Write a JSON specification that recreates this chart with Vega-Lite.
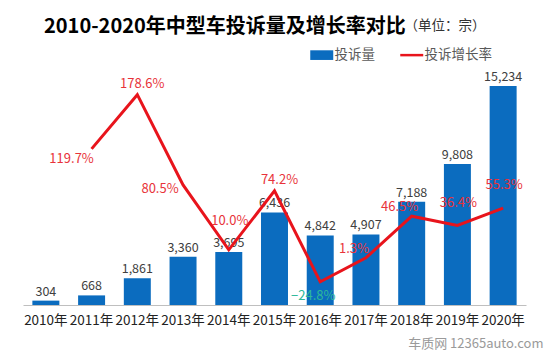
{
  "$schema": "https://vega.github.io/schema/vega-lite/v6.json",
  "width": 503,
  "height": 230,
  "autosize": {"type": "none"},
  "padding": {"left": 23, "top": 75, "right": 24, "bottom": 51},
  "background": "white",
  "config": {"font": "Noto Sans CJK SC", "view": {"stroke": null}},
  "title": {
    "text": "2010-2020年中型车投诉量及增长率对比",
    "fontSize": 20,
    "fontWeight": "bold",
    "color": "#000000",
    "anchor": "start",
    "frame": "group",
    "dx": 21,
    "offset": -19
  },
  "data": {
    "values": [
      {"year": "2010年", "count": 304, "rate": null},
      {"year": "2011年", "count": 668, "rate": 1.197},
      {"year": "2012年", "count": 1861, "rate": 1.786},
      {"year": "2013年", "count": 3360, "rate": 0.805},
      {"year": "2014年", "count": 3695, "rate": 0.100},
      {"year": "2015年", "count": 6436, "rate": 0.742},
      {"year": "2016年", "count": 4842, "rate": -0.248},
      {"year": "2017年", "count": 4907, "rate": 0.013},
      {"year": "2018年", "count": 7188, "rate": 0.465},
      {"year": "2019年", "count": 9808, "rate": 0.364},
      {"year": "2020年", "count": 15234, "rate": 0.553}
    ]
  },
  "encoding": {
    "x": {
      "field": "year",
      "type": "nominal",
      "sort": null,
      "scale": {"paddingInner": 0.41, "paddingOuter": 0.205},
      "axis": {
        "labelAngle": 0,
        "labelFontSize": 13.5,
        "labelColor": "#222222",
        "labelPadding": 8,
        "ticks": false,
        "domainColor": "#bfbfbf",
        "domainWidth": 1,
        "title": "车质网 12365auto.com",
        "titleFontSize": 13,
        "titleFontWeight": "normal",
        "titleColor": "#9a9a9a",
        "titleX": 520,
        "titleY": 38,
        "titleAlign": "right",
        "titleBaseline": "middle"
      }
    }
  },
  "layer": [
    {
      "encoding": {
        "y": {
          "field": "count",
          "type": "quantitative",
          "scale": {"domain": [0, 16000]},
          "axis": {
            "labels": false,
            "ticks": false,
            "domain": false,
            "grid": false,
            "title": "（单位：宗）",
            "titleAngle": 0,
            "titleX": 381,
            "titleY": -50,
            "titleAlign": "left",
            "titleBaseline": "middle",
            "titleFontSize": 13.5,
            "titleFontWeight": "normal",
            "titleColor": "#333333"
          }
        }
      },
      "layer": [
        {
          "mark": {"type": "bar", "color": "#0b6cbf"},
          "encoding": {
            "color": {
              "datum": "投诉量",
              "type": "nominal",
              "scale": {"domain": ["投诉量", "投诉增长率"], "range": ["#0b6cbf", "#e8141c"]},
              "legend": {
                "orient": "none",
                "legendX": 292,
                "legendY": -27,
                "direction": "horizontal",
                "title": null,
                "labelFontSize": 13.5,
                "labelColor": "#595959",
                "symbolSize": 529,
                "labelOffset": 6,
                "columnPadding": 20,
                "encode": {
                  "symbols": {
                    "update": {
                      "shape": {"signal": "datum.value === '投诉量' ? 'M-1,-0.42H1V0.42H-1Z' : 'M-1,0H1'"},
                      "fill": {"signal": "datum.value === '投诉量' ? '#0b6cbf' : 'transparent'"},
                      "stroke": {"signal": "datum.value === '投诉量' ? 'transparent' : '#e8141c'"},
                      "strokeWidth": {"signal": "datum.value === '投诉量' ? 0 : 2.5"},
                      "opacity": {"value": 1}
                    }
                  }
                }
              }
            }
          }
        },
        {
          "mark": {"type": "text", "baseline": "middle", "dy": -9, "fontSize": 12.5, "color": "#404040"},
          "encoding": {"text": {"field": "count", "type": "quantitative", "format": ","}}
        }
      ]
    },
    {
      "transform": [{"filter": "datum.rate != null"}],
      "encoding": {
        "y": {"field": "rate", "type": "quantitative", "scale": {"domain": [-0.5, 2]}, "axis": null}
      },
      "layer": [
        {
          "mark": {"type": "line", "strokeWidth": 3, "color": "#e8141c"},
          "encoding": {"color": {"datum": "投诉增长率", "type": "nominal"}}
        },
        {
          "transform": [{"filter": "datum.year === '2011年'"}],
          "mark": {"type": "text", "baseline": "middle", "dx": -20, "dy": 10, "fontSize": 13, "color": "#e8333a"},
          "encoding": {"text": {"field": "rate", "type": "quantitative", "format": ".1%"}}
        },
        {
          "transform": [{"filter": "datum.year === '2012年' || datum.year === '2015年'"}],
          "mark": {"type": "text", "baseline": "middle", "dx": 5, "dy": -11, "fontSize": 13, "color": "#e8333a"},
          "encoding": {"text": {"field": "rate", "type": "quantitative", "format": ".1%"}}
        },
        {
          "transform": [{"filter": "datum.year === '2013年'"}],
          "mark": {"type": "text", "baseline": "middle", "dx": -23, "dy": 4, "fontSize": 13, "color": "#e8333a"},
          "encoding": {"text": {"field": "rate", "type": "quantitative", "format": ".1%"}}
        },
        {
          "transform": [{"filter": "datum.year === '2014年'"}],
          "mark": {"type": "text", "baseline": "middle", "dx": 1, "dy": -29, "fontSize": 13, "color": "#e8333a"},
          "encoding": {"text": {"field": "rate", "type": "quantitative", "format": ".1%"}}
        },
        {
          "transform": [{"filter": "datum.year === '2016年'"}],
          "mark": {"type": "text", "baseline": "middle", "dx": -7, "dy": 14, "fontSize": 13, "color": "#2db899"},
          "encoding": {"text": {"field": "rate", "type": "quantitative", "format": ".1%"}}
        },
        {
          "transform": [{"filter": "datum.year === '2017年' || datum.year === '2018年'"}],
          "mark": {"type": "text", "baseline": "middle", "dx": -12, "dy": -9, "fontSize": 13, "color": "#e8333a"},
          "encoding": {"text": {"field": "rate", "type": "quantitative", "format": ".1%"}}
        },
        {
          "transform": [{"filter": "datum.year === '2019年' || datum.year === '2020年'"}],
          "mark": {"type": "text", "baseline": "middle", "dx": 1, "dy": -23, "fontSize": 13, "color": "#e8333a"},
          "encoding": {"text": {"field": "rate", "type": "quantitative", "format": ".1%"}}
        }
      ]
    }
  ],
  "resolve": {"scale": {"y": "independent"}}
}
